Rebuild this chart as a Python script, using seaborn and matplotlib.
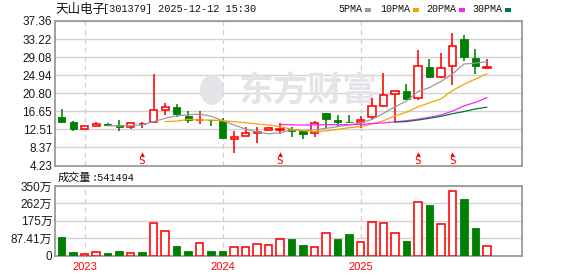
import numpy as np
import pandas as pd
import matplotlib
matplotlib.use('Agg')
import matplotlib.pyplot as plt
import seaborn as sns
from matplotlib.patches import Rectangle, Ellipse

# ---------------- data ----------------
months = pd.period_range('2022-11', '2025-12', freq='M').astype(str).tolist()

opens  = [15.28, 14.20, 12.53, 13.40, 13.82, 13.52, 12.99, 13.65, 14.14, 17.03,
          17.64, 15.65, 14.60, 14.70, 14.50, 10.38, 10.99, 11.61, 12.30, 12.40,
          12.53, 12.21, 11.61, 16.20, 14.66, 14.27, 14.14, 15.28, 17.87, 20.60,
          21.31, 19.64, 26.82, 24.59, 26.98, 33.24, 28.88, 26.66]
highs  = [17.12, 14.50, 13.22, 14.20, 13.90, 14.66, 13.95, 14.15, 25.20, 18.49,
          18.33, 16.73, 16.73, 14.75, 15.05, 12.14, 12.99, 12.99, 13.10, 13.90,
          13.13, 12.30, 14.50, 16.25, 15.81, 15.88, 15.58, 19.70, 25.44, 21.54,
          22.92, 30.71, 28.65, 30.03, 34.61, 34.15, 30.94, 28.65]
lows   = [14.00, 12.21, 12.53, 13.35, 13.50, 12.21, 12.50, 12.80, 14.10, 15.81,
          15.42, 13.91, 13.75, 13.40, 10.30, 7.17, 10.99, 9.46, 12.30, 11.45,
          10.70, 10.31, 10.70, 12.76, 13.13, 13.91, 12.76, 14.89, 17.58, 14.04,
          19.55, 19.25, 24.59, 24.23, 22.69, 28.19, 25.21, 26.52]
closes = [14.14, 12.53, 13.22, 13.75, 13.59, 13.13, 13.91, 13.72, 16.96, 17.57,
          15.97, 14.66, 14.70, 14.55, 10.47, 10.70, 11.61, 11.98, 12.83, 12.50,
          12.21, 11.38, 14.04, 14.82, 14.27, 14.14, 14.73, 17.87, 20.40, 21.31,
          19.55, 26.98, 24.59, 26.52, 31.56, 29.11, 26.98, 26.82]
volumes = [91, 20, 10, 18.6, 15, 25, 13.5, 20, 166, 125,
           46, 25, 64, 25, 25, 44, 44, 59, 55, 84.5,
           81, 50.7, 44, 111, 81, 106.5, 66, 171, 165.6, 111.6,
           71, 267, 253.6, 160.6, 323, 284, 137, 49]   # 万
vol_up = [0, 0, 1, 1, 0, 0, 1, 0, 1, 1,
          0, 0, 1, 0, 0, 1, 1, 1, 1, 1,
          0, 0, 1, 1, 0, 0, 1, 1, 1, 1,
          0, 1, 0, 1, 1, 0, 0, 1]

ma5 = [13.35, 13.30, 13.36, 13.55, 14.30, 15.05, 15.65, 15.85, 16.00, 15.55,
       14.50, 13.50, 12.60, 11.90, 11.50, 11.75, 12.35, 12.25, 12.40, 12.75,
       13.15, 13.50, 14.00, 14.80, 16.20, 17.70, 19.00, 21.15, 22.10, 23.50,
       25.20, 27.50, 27.70, 28.05]
ma10 = [14.30, 14.40, 14.80, 14.66, 14.66, 14.50, 14.27, 14.04, 13.75, 13.50,
        13.15, 12.55, 12.20, 12.00, 12.15, 12.50, 12.90, 13.15, 13.75, 14.50,
        15.60, 16.45, 17.70, 18.60, 19.50, 21.40, 22.85, 24.05, 25.30]
ma20 = [13.65, 13.55, 13.50, 13.55, 13.60, 13.60, 13.60, 13.65, 13.85, 14.00,
        14.25, 14.50, 14.85, 15.30, 15.80, 16.70, 17.90, 18.70, 19.80]
ma30 = [14.20, 14.30, 14.66, 15.05, 15.50, 16.10, 16.60, 17.20, 17.60]

signal_idx = [7, 19, 31, 34]

price_ticks = [4.23, 8.37, 12.51, 16.65, 20.80, 24.94, 29.08, 33.22, 37.36]
vol_ticks = [0, 87.41, 175, 262, 350]
vol_tick_labels = ['0', '87.41万', '175万', '262万', '350万']

title_name = '天山电子'
title_rest = '[301379] 2025-12-12 15:30'
vol_title = '成交量'
vol_value = ':541494'
legend_labels = ['5PMA', '10PMA', '20PMA', '30PMA']
watermark = '东方财富'

# ---------------- style ----------------
RED = '#ff0000'
GREEN = '#008000'
MA_COLORS = ['#9a9a9a', '#f5a300', '#ff22ff', '#00783c']
GRID = '#d2d2d2'
BORDER = '#9a9a9a'

sns.set_theme(style='white')
plt.rcParams['font.family'] = ['Liberation Sans', 'Noto Sans CJK SC', 'DejaVu Sans']
plt.rcParams['axes.unicode_minus'] = False

WPX, HPX = 578, 276
fig = plt.figure(figsize=(WPX / 100, HPX / 100), dpi=100)
fig.patch.set_facecolor('white')


def fx(px):
    return px / WPX


def fy(py):
    return 1 - py / HPX


L, R = 55, 522
ax = fig.add_axes([fx(L), fy(165.5), fx(R) - fx(L), fy(21) - fy(165.5)])
axv = fig.add_axes([fx(L), fy(255.5), fx(R) - fx(L), fy(186) - fy(255.5)])

n = len(closes)
xs = np.arange(n)
XLIM = (-0.58, 40.05)
year_idx = [i for i, m in enumerate(months) if m.endswith('-01')]
year_labels = [months[i][:4] for i in year_idx]

W = 0.62
LW = 1.15

# ---------------- candles ----------------
for i in range(n):
    o, h, l, c = opens[i], highs[i], lows[i], closes[i]
    if c >= o:
        top, bot = c, o
        ax.vlines(i, top, h, color=RED, lw=LW, zorder=3)
        ax.vlines(i, l, bot, color=RED, lw=LW, zorder=3)
        ax.bar(i, max(top - bot, 0.05), bottom=bot, width=W, facecolor='white',
               edgecolor=RED, linewidth=LW, zorder=4)
    else:
        ax.vlines(i, l, h, color=GREEN, lw=LW, zorder=3)
        ax.bar(i, o - c, bottom=c, width=W, facecolor=GREEN,
               edgecolor=GREEN, linewidth=0.6, zorder=4)

# moving averages
for vals, col in zip([ma5, ma10, ma20, ma30], MA_COLORS):
    xx = np.arange(n - len(vals), n)
    sns.lineplot(x=xx, y=vals, ax=ax, color=col, lw=0.9, legend=False, zorder=5)

# signal markers
for i in signal_idx:
    ax.plot(i, 6.95, marker='^', ms=3.2, color=RED, mew=0, zorder=6)
    ax.text(i, 5.35, 'S', color=RED, fontsize=8, ha='center', va='center',
            family=['DejaVu Sans Mono'], zorder=6)

ax.set_xlim(*XLIM)
ax.set_ylim(price_ticks[0], price_ticks[-1])
ax.set_yticks(price_ticks)
ax.set_yticklabels([f'{t:.2f}' for t in price_ticks])
ax.set_xticks([])
ax.set_xlabel('')
ax.set_ylabel('')
ax.set_axisbelow(True)
ax.yaxis.grid(True, color=GRID, lw=1.0)
for yi in year_idx:
    ax.axvline(yi, color='#cfcfcf', lw=0.9, ls=(0, (4, 3)), zorder=0.5)
ax.tick_params(axis='y', length=0, pad=2, labelsize=8.5, labelcolor='#1a1a1a')

# watermark
ax.text(fx(308), fy(90), watermark, transform=fig.transFigure, fontsize=25,
        fontweight='bold', color='#e4e4e8', ha='center', va='center',
        family=['Noto Sans CJK SC'], zorder=0.6)
ax.add_patch(Ellipse((fx(212), fy(90)), 24 / WPX, 30 / HPX, angle=0,
                     transform=fig.transFigure, facecolor='#e4e4e8',
                     edgecolor='none', zorder=0.6))

# ---------------- volume ----------------
for i in range(n):
    if vol_up[i]:
        axv.bar(i, volumes[i], width=0.64, facecolor='white', edgecolor=RED,
                linewidth=LW, zorder=3)
    else:
        axv.bar(i, volumes[i], width=0.64, facecolor=GREEN, edgecolor=GREEN,
                linewidth=0.6, zorder=3)

axv.set_xlim(*XLIM)
axv.set_ylim(0, 350)
axv.set_yticks(vol_ticks)
axv.set_yticklabels(vol_tick_labels)
axv.set_xticks(year_idx)
axv.set_xticklabels(year_labels)
axv.set_axisbelow(True)
axv.yaxis.grid(True, color=GRID, lw=1.0)
for yi in year_idx:
    axv.axvline(yi, color='#cfcfcf', lw=0.9, ls=(0, (4, 3)), zorder=0.5)
axv.tick_params(axis='y', length=0, pad=2, labelsize=8.5, labelcolor='#1a1a1a')
axv.tick_params(axis='x', length=0, pad=4.5, labelsize=8, labelcolor=RED)

for a in (ax, axv):
    for s in a.spines.values():
        s.set_visible(True)
        s.set_color(BORDER)
        s.set_linewidth(1.3)

# ---------------- texts ----------------
fig.text(fx(55), fy(9), title_name, fontsize=9, family=['Noto Sans CJK SC'],
         va='center', ha='left', color='#111111')
fig.text(fx(103), fy(9), title_rest, fontsize=7.4, family=['Liberation Mono'],
         va='center', ha='left', color='#111111')

fig.text(fx(58), fy(178), vol_title, fontsize=8, family=['Noto Sans CJK SC'],
         va='center', ha='left', color='#111111')
fig.text(fx(92), fy(178), vol_value, fontsize=7.4, family=['Liberation Mono'],
         va='center', ha='left', color='#111111')

leg_x = [338, 380, 426, 472]
for lab, col, x0 in zip(legend_labels, MA_COLORS, leg_x):
    fig.text(fx(x0), fy(9), lab, fontsize=7.2, family=['Liberation Mono'],
             va='center', ha='left', color='#111111')
    x1 = x0 + len(lab) * 6.0 + 3
    fig.patches.append(Rectangle((fx(x1), fy(11.5)), 6 / WPX, 3 / HPX,
                                 transform=fig.transFigure, facecolor=col,
                                 edgecolor='none'))

fig.savefig('out.png', dpi=100)
